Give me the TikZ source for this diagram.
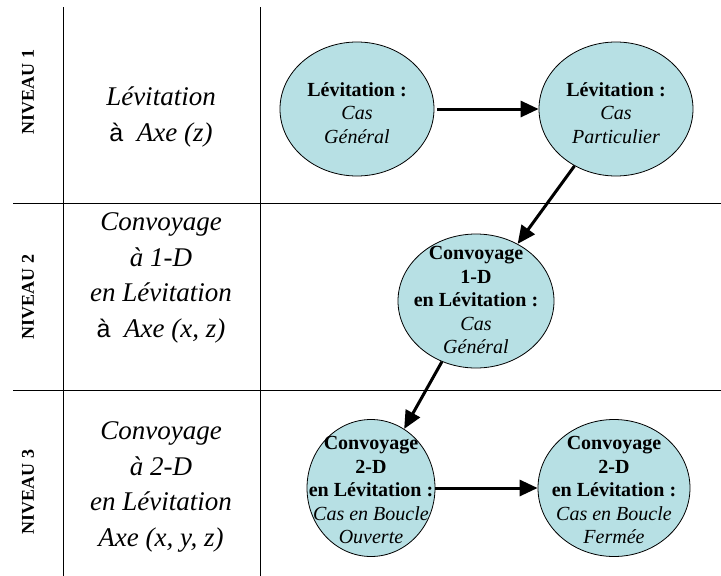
\documentclass[tikz,border=0pt]{standalone}
\usepackage{fontspec}
\setmainfont{Liberation Serif}[
  BoldFont={Liberation Serif Bold},
  ItalicFont={Liberation Serif Italic},
  BoldItalicFont={Liberation Serif Bold Italic}]
\newfontfamily\arialfont{Liberation Sans}
\usetikzlibrary{shapes.geometric, arrows.meta}
\definecolor{bulle}{RGB}{183,224,228}

\begin{document}
\begin{tikzpicture}[x=1pt, y=-1pt,
    etat/.style={ellipse, draw=black, line width=0.8pt, fill=bulle,
      minimum width=154pt, minimum height=134pt, inner sep=0pt},
    texte/.style={align=center, font=\fontsize{20}{23.5}\selectfont},
    niveau/.style={rotate=90, font=\fontsize{18}{20}\selectfont\bfseries},
    titre/.style={align=center, font=\fontsize{27}{35.5}\selectfont\itshape},
    fleche/.style={-{Triangle[length=18pt,width=16pt]}, line width=3pt}]
    \useasboundingbox (0,0) rectangle (721,576);
    % Tableau
    \draw[line width=1pt] (63,7) -- (63,576);
    \draw[line width=1pt] (260,7) -- (260,576);
    \draw[line width=1pt] (13,203) -- (721,203);
    \draw[line width=1pt] (13,390) -- (721,390);
    % Niveaux
    \node[niveau] (n1) at (28,92) {NIVEAU 1};
    \node[niveau] (n2) at (28,297) {NIVEAU 2};
    \node[niveau] (n3) at (28,492) {NIVEAU 3};
    % Titres des niveaux
    \node[titre] (t1) at (161,117) {L\'evitation\\{\upshape\arialfont\fontsize{25}{35.5}\selectfont \`a}\ \ Axe (z)};
    \node[titre] (t2) at (161,278) {Convoyage\\\`a 1-D\\en L\'evitation\\{\upshape\arialfont\fontsize{25}{35.5}\selectfont \`a}\ \ Axe (x, z)};
    \node[titre] (t3) at (161,487) {Convoyage\\\`a 2-D\\en L\'evitation\\Axe (x, y, z)};
    % Etats
    \node[etat] (levgen) at (357,109) {};
    \node[etat] (levpart) at (616,109) {};
    \node[etat, minimum width=156pt] (conv1d) at (476,301) {};
    \node[etat, minimum width=128pt, minimum height=137pt] (conv2do) at (371,488) {};
    \node[etat, minimum width=152pt, minimum height=137pt] (conv2df) at (614,488) {};
    \node[texte] at (357,113) {\textbf{L\'evitation :}\\\textit{Cas}\\\textit{G\'en\'eral}};
    \node[texte] at (616,113) {\textbf{L\'evitation :}\\\textit{Cas}\\\textit{Particulier}};
    \node[texte] at (476,300) {\textbf{Convoyage}\\\textbf{1-D}\\\textbf{en L\'evitation :}\\\textit{Cas}\\\textit{G\'en\'eral}};
    \node[texte] at (371,490) {\textbf{Convoyage}\\\textbf{2-D}\\\textbf{en L\'evitation :}\\\textit{Cas en Boucle}\\\textit{Ouverte}};
    \node[texte] at (614,490) {\textbf{Convoyage}\\\textbf{2-D}\\\textbf{en L\'evitation :}\\\textit{Cas en Boucle}\\\textit{Ferm\'ee}};
    % Fleches
    \draw[fleche, shorten <=3pt] (levgen) -- (levpart);
    \draw[fleche] (levpart) -- (conv1d);
    \draw[fleche] (conv1d) -- (conv2do);
    \draw[fleche] (conv2do) -- (conv2df);
\end{tikzpicture}
\end{document}
